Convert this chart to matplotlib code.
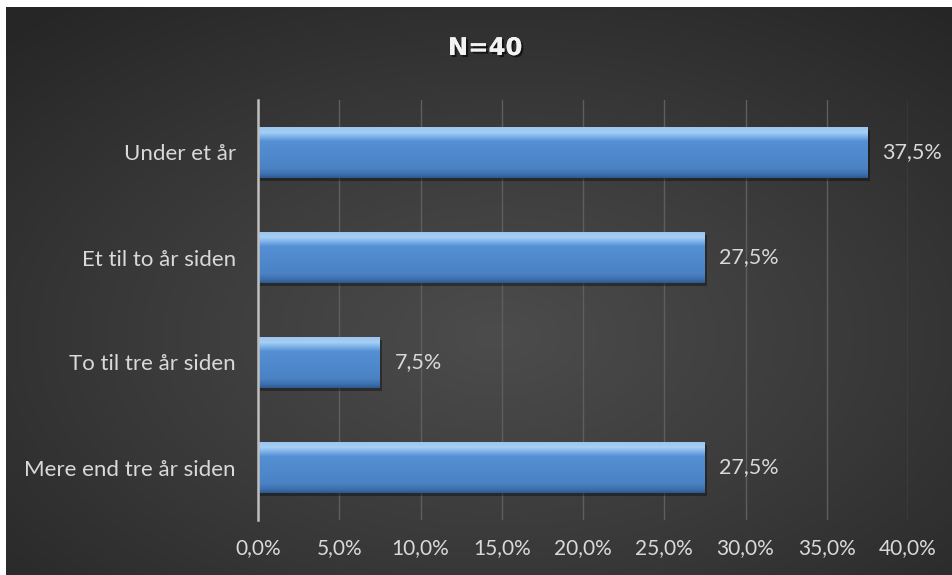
import numpy as np
import matplotlib.pyplot as plt
import matplotlib.patheffects as pe
from matplotlib.colors import LinearSegmentedColormap

# data
categories = ['Under et år', 'Et til to år siden', 'To til tre år siden', 'Mere end tre år siden']
values = [37.5, 27.5, 7.5, 27.5]
xticks = [0, 5, 10, 15, 20, 25, 30, 35, 40]
title = 'N=40'

plt.rcParams['font.family'] = ['Lato', 'DejaVu Sans']
txt = '#d9d9d9'

fig = plt.figure(figsize=(9.52, 5.75), dpi=100)
fig.patch.set_facecolor('white')

# dark radial background (white strip left and top like the original)
bg = fig.add_axes([6 / 952, 0, 1 - 6 / 952, 1 - 7 / 575])
bg.set_axis_off()
yy, xx = np.mgrid[0:1:300j, 0:1:500j]
r = np.sqrt(((xx - 0.52) / 0.75) ** 2 + ((yy - 0.42) / 0.75) ** 2)
r = np.clip(r, 0, 1)
bgcmap = LinearSegmentedColormap.from_list('bg', ['#4c4c4c', '#3a3a3a', '#262626'])
bg.imshow(r, cmap=bgcmap, aspect='auto', extent=[0, 1, 0, 1], origin='lower')
bg.set_xlim(0, 1)
bg.set_ylim(0, 1)

ax = fig.add_axes([258 / 952, 55 / 575, 650 / 952, 420 / 575])
ax.patch.set_alpha(0)
y = np.arange(len(categories))

# shadow
ax.barh(y + 0.03, values, height=0.48, left=0.15, color='black', alpha=0.35, zorder=2)
bars = ax.barh(y, values, height=0.48, color='#4f88c9', zorder=3)

grad = LinearSegmentedColormap.from_list('bar', [
    (0.0, '#2d5a92'), (0.07, '#3d70ad'), (0.18, '#4a82c4'),
    (0.72, '#5590d4'), (0.82, '#7fb3ea'), (0.9, '#a6cff4'), (1.0, '#9cc6ef')])
g = np.linspace(0, 1, 100).reshape(-1, 1)
for b in bars:
    x0, y0 = b.get_x(), b.get_y()
    w, h = b.get_width(), b.get_height()
    im = ax.imshow(g, cmap=grad, aspect='auto', origin='lower',
                   extent=[x0, x0 + w, y0 + h, y0], zorder=4)
    im.set_clip_path(b)

for yi, v in zip(y, values):
    ax.text(v + 0.9, yi, f'{v:.1f}%'.replace('.', ','), va='center', ha='left',
            color=txt, fontsize=15.5, zorder=5)

ax.set_xlim(0, 40)
ax.set_ylim(len(categories) - 0.5, -0.5)
ax.set_xticks(xticks)
ax.set_xticklabels([f'{t:.1f}%'.replace('.', ',') for t in xticks], color=txt, fontsize=15)
ax.set_yticks(y)
ax.set_yticklabels(categories, color=txt, fontsize=16)
ax.tick_params(length=0, pad=13, axis='x')
ax.tick_params(length=0, pad=16, axis='y')
ax.grid(axis='x', color='#5e5e5e', linewidth=1, zorder=0)
ax.set_axisbelow(True)
for s in ['top', 'right', 'bottom']:
    ax.spines[s].set_visible(False)
ax.spines['left'].set_color('#bfbfbf')
ax.spines['left'].set_linewidth(1.8)
ax.spines['left'].set_zorder(6)

fig.text(485 / 952, 1 - 48 / 575, title, ha='center', va='center', color='#f2f2f2',
         fontsize=17.5, fontweight='bold', family='DejaVu Sans',
         path_effects=[pe.withSimplePatchShadow(offset=(1.5, -1.5), shadow_rgbFace='black', alpha=0.6),
                       pe.Normal()])

fig.savefig('out.png', dpi=100, facecolor=fig.get_facecolor())
